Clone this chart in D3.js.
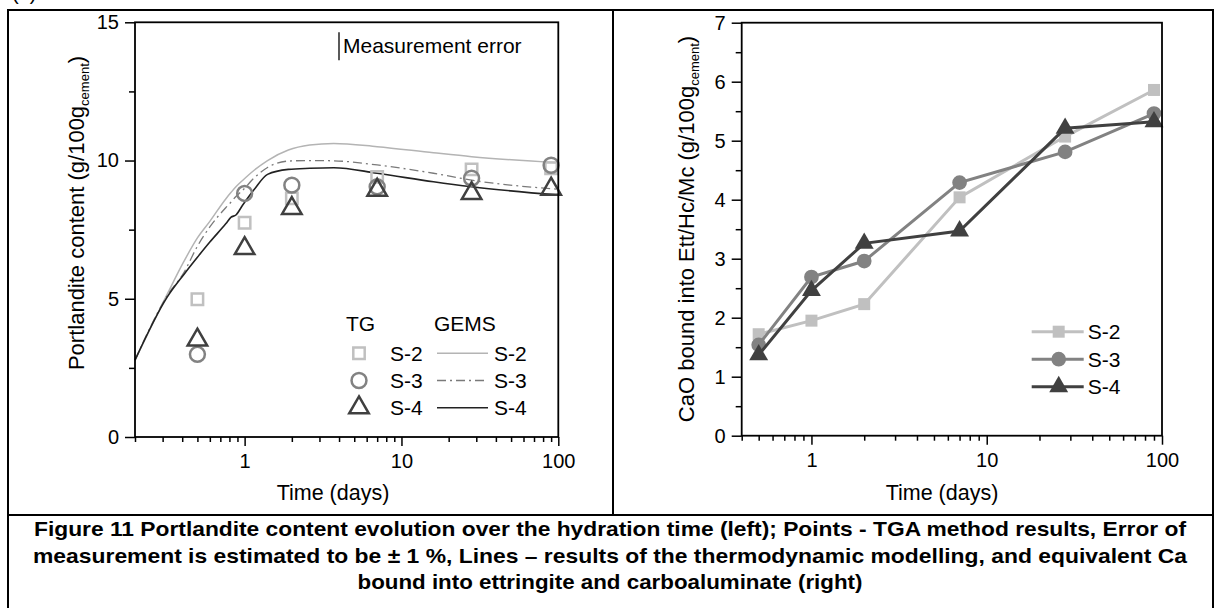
<!DOCTYPE html>
<html>
<head>
<meta charset="utf-8">
<script src="https://cdn.jsdelivr.net/npm/d3@7"></script>
<style>
  body { margin: 0; background: #fff; }
  svg { display: block; font-family: "Liberation Sans", Arial, sans-serif; }
</style>
</head>
<body>
<div id="chart"></div>
<script>
// ---- data ----
const days = [0.5, 1, 2, 7, 28, 90];
const sampleNames = ["S-2", "S-3", "S-4"];

// left panel: TG points (g/100g cement)
const tgS2 = [4.98, 7.75, 8.63, 9.41, 9.68, 9.72];
const tgS3 = [2.99, 8.81, 9.11, 9.05, 9.36, 9.83];
const tgS4 = [3.51, 6.82, 8.27, 8.93, 8.81, 8.97];

// left panel: GEMS model lines
const gemsDays = [0.2, 0.32, 0.41, 0.5, 0.6, 0.76, 0.82, 0.88, 0.97, 1.15, 1.4, 1.9, 2.6, 3.7, 7, 16, 28, 100];
const gemsS2 = [2.78, 5.15, 6.35, 7.2, 7.8, 8.62, 8.85, 9.05, 9.28, 9.65, 10.0, 10.38, 10.56, 10.62, 10.5, 10.28, 10.14, 9.92];
const gemsS3 = [2.78, 5.1, 5.95, 6.9, 7.6, 8.3, 8.5, 8.7, 8.92, 9.37, 9.75, 9.98, 10.0, 9.99, 9.84, 9.54, 9.29, 8.96];
const gemsS4 = [2.78, 5.05, 5.88, 6.5, 7.05, 7.72, 7.95, 8.03, 8.38, 8.95, 9.5, 9.68, 9.72, 9.74, 9.54, 9.23, 9.05, 8.75];

// right panel: CaO bound into Ett/Hc/Mc
const caoS2 = [1.72, 1.95, 2.23, 4.04, 5.07, 5.86];
const caoS3 = [1.54, 2.69, 2.96, 4.29, 4.81, 5.46];
const caoS4 = [1.37, 2.46, 3.26, 3.47, 5.21, 5.32];

const xTicks = [1, 10, 100];
const leftYTicks = [0, 5, 10, 15];
const rightYTicks = [0, 1, 2, 3, 4, 5, 6, 7];

const captionLines = [
  "Figure 11 Portlandite content evolution over the hydration time (left); Points - TGA method results, Error of",
  "measurement is estimated to be \u00b1 1 %, Lines \u2013 results of the thermodynamic modelling,  and  equivalent Ca",
  "bound into ettringite and carboaluminate (right)"
];

const colors = ["#c0c0c0", "#828282", "#404040"];

const svg = d3
  .select("#chart")
  .append("svg")
  .attr("width", 1215)
  .attr("height", 608);

// table frame
const frame = svg.append("g").attr("stroke", "#000").attr("stroke-width", 2);
frame.append("line").attr("x1", 8).attr("x2", 1213).attr("y1", 10).attr("y2", 10);
frame.append("line").attr("x1", 8).attr("x2", 8).attr("y1", 9).attr("y2", 608);
frame.append("line").attr("x1", 1213).attr("x2", 1213).attr("y1", 9).attr("y2", 608);
frame.append("line").attr("x1", 613).attr("x2", 613).attr("y1", 10).attr("y2", 515);
frame.append("line").attr("x1", 8).attr("x2", 1213).attr("y1", 515).attr("y2", 515);

// panel tag, cut by the page top like in the source
svg.append("text").attr("x", 12).attr("y", 0).attr("font-size", 20).text("(a)");

// minor log ticks 2..9 of each decade
function minorTicks(domain) {
  const out = [];
  for (let e = -1; e <= 2; e++) {
    for (let m = 2; m <= 9; m++) {
      const v = m * Math.pow(10, e);
      if (v >= domain[0] - 1e-9 && v <= domain[1] + 1e-9) out.push(v);
    }
  }
  return out;
}

function drawAxes(g, x, y, yTicks, yMinor, w, h) {
  g.append("g")
    .attr("transform", `translate(0,${h})`)
    .call(d3.axisBottom(x).tickValues(minorTicks(x.domain())).tickFormat("").tickSize(5).tickSizeOuter(0));
  g.append("g")
    .attr("transform", `translate(0,${h})`)
    .call(d3.axisBottom(x).tickValues(xTicks).tickFormat(d3.format("d")).tickSize(9).tickSizeOuter(0).tickPadding(8));
  g.append("g")
    .call(d3.axisLeft(y).tickValues(yMinor).tickFormat("").tickSize(6).tickSizeOuter(0));
  g.append("g")
    .call(d3.axisLeft(y).tickValues(yTicks).tickFormat(d3.format("d")).tickSize(10).tickSizeOuter(0).tickPadding(6));
  g.selectAll(".domain").remove();
  g.selectAll(".tick line").attr("stroke", "#000").attr("stroke-width", 1.5);
  g.selectAll(".tick text").attr("font-size", 20).attr("font-family", "Liberation Sans, Arial, sans-serif").attr("fill", "#000");
  g.append("rect")
    .attr("width", w).attr("height", h)
    .attr("fill", "none").attr("stroke", "#000").attr("stroke-width", 1.8);
}

function yLabel(g, tx, ty, main) {
  const t = g.append("text")
    .attr("transform", `translate(${tx},${ty}) rotate(-90)`)
    .attr("text-anchor", "middle")
    .attr("font-size", 22);
  t.append("tspan").text(main);
  t.append("tspan").attr("font-size", 13).attr("dy", 5).text("cement");
  t.append("tspan").attr("dy", -5).text(")");
}

// ---------- left panel ----------
const L = { left: 135, top: 22.3, w: 423.3, h: 414.7 };
const gl = svg.append("g").attr("transform", `translate(${L.left},${L.top})`);
const xL = d3.scaleLog().domain([0.2, 100]).range([0, L.w]);
const yL = d3.scaleLinear().domain([0, 15]).range([L.h, 0]);

const gemsSeries = [gemsS2, gemsS3, gemsS4];
const gemsDash = [null, "9,4,2,4", null];
const gemsWidth = [1.5, 1.3, 1.6];
const gemsColor = ["#b4b4b4", "#7a7a7a", "#222"];
const lineL = d3.line().curve(d3.curveMonotoneX);
gemsSeries.forEach((vals, i) => {
  gl.append("path")
    .attr("d", lineL(gemsDays.map((d, k) => [xL(d), yL(vals[k])])))
    .attr("fill", "none")
    .attr("stroke", gemsColor[i])
    .attr("stroke-width", gemsWidth[i])
    .attr("stroke-dasharray", gemsDash[i]);
});

const symbols = [d3.symbolSquare, d3.symbolCircle, d3.symbolTriangle];
const hollowSize = [130, 175, 165];
const tgSeries = [tgS2, tgS3, tgS4];
tgSeries.forEach((vals, i) => {
  gl.append("g").selectAll("path")
    .data(days.map((d, k) => [d, vals[k]]))
    .join("path")
    .attr("transform", d => `translate(${xL(d[0])},${yL(d[1])})`)
    .attr("d", d3.symbol(symbols[i], hollowSize[i]))
    .attr("fill", "none")
    .attr("stroke", colors[i])
    .attr("stroke-width", 2.5);
});

drawAxes(gl, xL, yL, leftYTicks, [2.5, 7.5, 12.5], L.w, L.h);

// measurement error legend
gl.append("line").attr("x1", 204).attr("x2", 204).attr("y1", 10).attr("y2", 38).attr("stroke", "#000").attr("stroke-width", 1.3);
gl.append("text").attr("x", 208).attr("y", 31).attr("font-size", 21).text("Measurement error");

// TG / GEMS legend
const legL = gl.append("g").attr("font-size", 21);
legL.append("text").attr("x", 211).attr("y", 309).text("TG");
legL.append("text").attr("x", 299).attr("y", 309).text("GEMS");
sampleNames.forEach((name, i) => {
  const cy = 331 + i * 27.2;
  legL.append("path")
    .attr("transform", `translate(224,${cy})`)
    .attr("d", d3.symbol(symbols[i], hollowSize[i]))
    .attr("fill", "none").attr("stroke", colors[i]).attr("stroke-width", 2.5);
  legL.append("text").attr("x", 255).attr("y", cy + 7.5).text(name);
  legL.append("line")
    .attr("x1", 302).attr("x2", 353).attr("y1", cy).attr("y2", cy)
    .attr("stroke", gemsColor[i]).attr("stroke-width", gemsWidth[i])
    .attr("stroke-dasharray", gemsDash[i]);
  legL.append("text").attr("x", 359).attr("y", cy + 7.5).text(name);
});

yLabel(svg, 84, 213, "Portlandite content (g/100g");
svg.append("text").attr("x", 333).attr("y", 500).attr("text-anchor", "middle").attr("font-size", 21.5).text("Time (days)");

// ---------- right panel ----------
const R = { left: 741.7, top: 22.7, w: 420.3, h: 413 };
const gr = svg.append("g").attr("transform", `translate(${R.left},${R.top})`);
const xR = d3.scaleLog().domain([0.4, 100]).range([0, R.w]);
const yR = d3.scaleLinear().domain([0, 7]).range([R.h, 0]);

const caoSeries = [caoS2, caoS3, caoS4];
const filledSize = [144, 170, 155];
const lineR = d3.line();
caoSeries.forEach((vals, i) => {
  const pts = days.map((d, k) => [d, vals[k]]);
  gr.append("path")
    .attr("d", lineR(pts.map(p => [xR(p[0]), yR(p[1])])))
    .attr("fill", "none")
    .attr("stroke", colors[i])
    .attr("stroke-width", 3);
  gr.append("g").selectAll("path")
    .data(pts)
    .join("path")
    .attr("transform", d => `translate(${xR(d[0])},${yR(d[1])})`)
    .attr("d", d3.symbol(symbols[i], filledSize[i]))
    .attr("fill", colors[i]);
});

drawAxes(gr, xR, yR, rightYTicks, [0.5, 1.5, 2.5, 3.5, 4.5, 5.5, 6.5], R.w, R.h);

const legR = gr.append("g").attr("font-size", 21);
sampleNames.forEach((name, i) => {
  const cy = 309 + i * 27.5;
  legR.append("line")
    .attr("x1", 290).attr("x2", 342).attr("y1", cy).attr("y2", cy)
    .attr("stroke", colors[i]).attr("stroke-width", 3);
  legR.append("path")
    .attr("transform", `translate(317,${cy})`)
    .attr("d", d3.symbol(symbols[i], filledSize[i]))
    .attr("fill", colors[i]);
  legR.append("text").attr("x", 346).attr("y", cy + 7.5).text(name);
});

yLabel(svg, 694, 229, "CaO bound into Ett/Hc/Mc (g/100g");
svg.append("text").attr("x", 942).attr("y", 500).attr("text-anchor", "middle").attr("font-size", 21.5).text("Time (days)");

// ---------- caption ----------
const capWidths = [1152, 1154, 505];
svg.append("g")
  .attr("font-family", "'Liberation Sans Narrow', 'Arial Narrow', 'Liberation Sans', sans-serif")
  .attr("font-weight", "bold")
  .attr("font-size", 21)
  .selectAll("text")
  .data(captionLines)
  .join("text")
  .attr("x", 610)
  .attr("y", (d, i) => 536 + i * 26.5)
  .attr("text-anchor", "middle")
  .attr("textLength", (d, i) => capWidths[i])
  .attr("lengthAdjust", "spacingAndGlyphs")
  .text(d => d);
</script>
</body>
</html>
